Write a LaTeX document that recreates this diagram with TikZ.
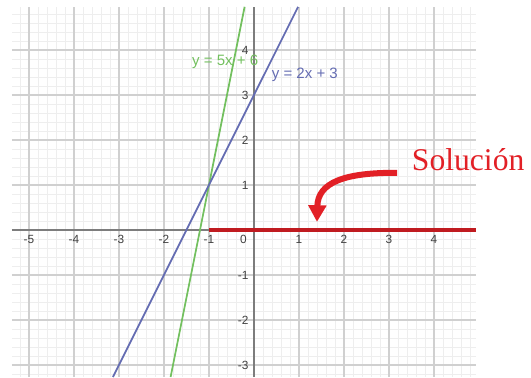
\documentclass[tikz,border=0pt]{standalone}
\usepackage{fontspec}
\setmainfont{Liberation Serif}
\setsansfont{Liberation Sans}
\usetikzlibrary{arrows.meta}

\definecolor{gridmajor}{RGB}{208,208,208}
\definecolor{gridminor}{RGB}{238,238,238}
\definecolor{axisgray}{RGB}{125,125,125}
\definecolor{linegreen}{RGB}{115,192,95}
\definecolor{lineblue}{RGB}{100,108,178}
\definecolor{solred}{RGB}{226,32,38}

\begin{document}
\begin{tikzpicture}[x=1cm, y=1cm,
  ticklabel/.style={font=\sffamily\fontsize{7.5}{9}\selectfont, text=black!75, inner sep=1pt},
  eqlabel/.style={font=\sffamily\fontsize{9.5}{11}\selectfont, inner sep=1pt}]

\useasboundingbox (-5.644,-3.267) rectangle (6.156,5.111);

% Grid
\draw[gridminor, line width=0.4pt, step=0.2] (-5.38,-3.267) grid (4.93,4.96);
\draw[gridmajor, line width=0.7pt, step=1] (-5.38,-3.267) grid (4.93,4.96);

% Axes
\draw[axisgray, line width=0.8pt] (-5.38,0) -- (4.93,0);
\draw[axisgray, line width=0.8pt] (0,-3.267) -- (0,4.96);

% Tick labels
\foreach \x in {-5,-4,-3,-2,-1,1,2,3,4}
  \node[ticklabel, anchor=north] (tx\x) at (\x,-0.08) {\x};
\node[ticklabel, anchor=north east] (tx0) at (-0.12,-0.08) {0};
\foreach \y in {-3,-2,-1,1,2,3,4}
  \node[ticklabel, anchor=east] (ty\y) at (-0.08,\y) {\y};

% Given lines
\draw[linegreen, line width=1.1pt] (-1.853,-3.267) -- (-0.208,4.96);
\draw[lineblue, line width=1.1pt] (-3.134,-3.267) -- (0.98,4.96);
\node[eqlabel, text=linegreen] (eqg) at (-0.64,3.73) {y = 5x + 6};
\node[eqlabel, text=lineblue] (eqb) at (1.13,3.44) {y = 2x + 3};

% Solution set
\draw[solred!85!black, line width=2.6pt] (-1,0) -- (4.93,0);

% Label and arrow
\node[text=solred, font=\fontsize{20}{24}\selectfont, inner sep=0pt] (sol) at (4.76,1.56) {Solución};
\coordinate (astart) at (3.18,1.27);
\coordinate (atip) at (1.40,0.18);
\draw[solred, line width=3.8pt, -{Triangle[width=11pt, length=10.5pt]}]
  (astart) .. controls (2.0,1.28) and (1.42,1.05) .. (atip);

\end{tikzpicture}
\end{document}
